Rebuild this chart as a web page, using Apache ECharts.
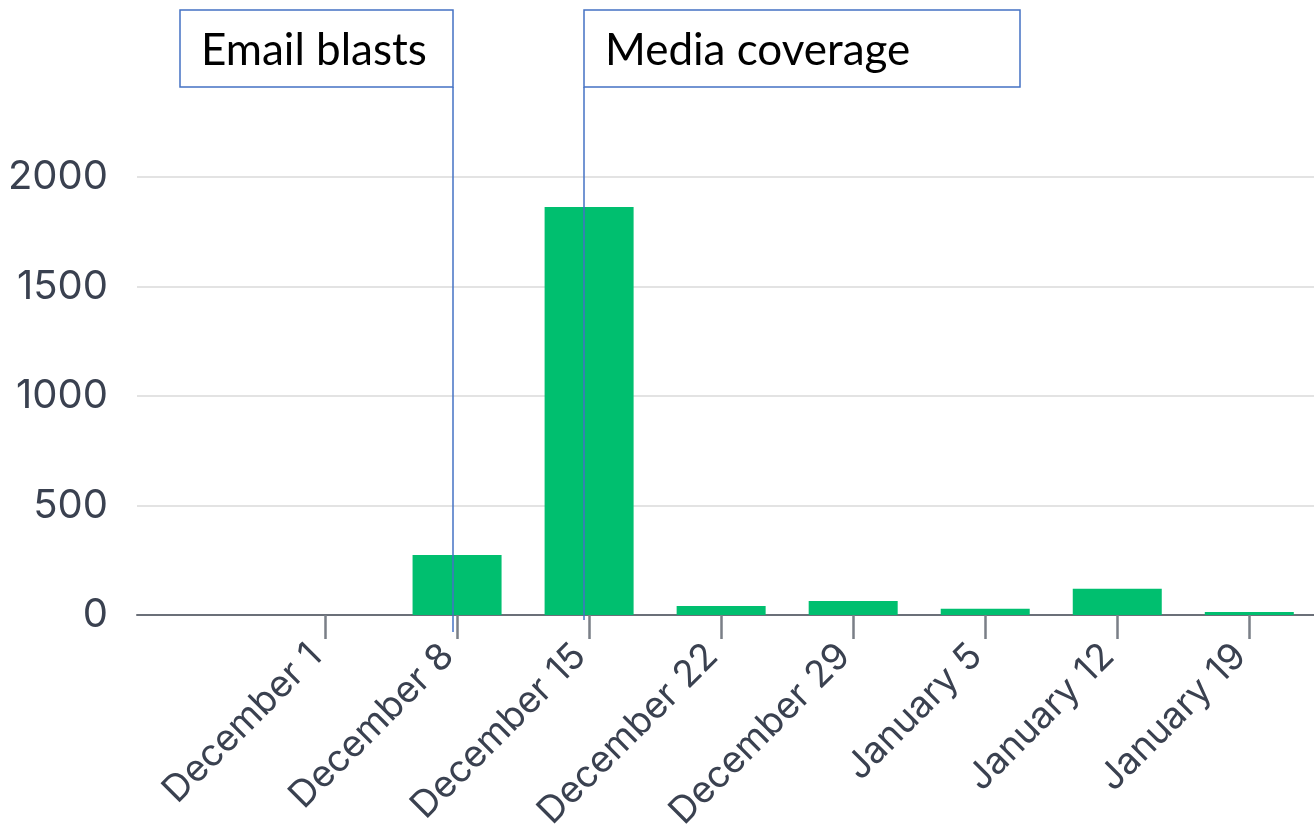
<!DOCTYPE html>
<html>
<head>
<meta charset="utf-8">
<script src="https://cdn.jsdelivr.net/npm/echarts@6/dist/echarts.min.js"></script>
<style>
html,body{margin:0;padding:0;background:#fff;}
#chart{width:1314px;height:824px;}
</style>
</head>
<body>
<div id="chart"></div>
<script>
const categories = ['December 1','December 8','December 15','December 22','December 29','January 5','January 12','January 19'];
const signups = [0, 274, 1863, 41, 64, 29, 120, 14];
const yTicks = [0, 500, 1000, 1500, 2000];
const annotations = ['Email blasts', 'Media coverage'];

const chart = echarts.init(document.getElementById('chart'), null, {renderer:'canvas'});
const idx = categories.map((c,i)=>i);
const labelFont = 'Inter';
const option = {
  animation:false,
  grid:{left:137, right:0, top:177, bottom:209, containLabel:false, outerBoundsMode:'none'},
  xAxis:{
    type:'value', min:-1.424, max:7.49,
    splitLine:{show:false},
    axisLine:{show:true, onZero:false, lineStyle:{color:'#6b7079', width:2}},
    axisTick:{show:true, customValues:idx, length:24, lineStyle:{color:'#7a7f87', width:2.5}},
    axisLabel:{customValues:idx, rotate:45, margin:26, padding:[0,13,0,0], fontSize:37, fontFamily:labelFont, color:'#3a4150',
      hideOverlap:false, formatter:v=>categories[Math.round(v)]}
  },
  yAxis:{
    type:'value', min:yTicks[0], max:yTicks[yTicks.length-1], interval:500,
    axisLine:{show:false}, axisTick:{show:false},
    splitLine:{lineStyle:{color:'#e3e3e3', width:2}},
    axisLabel:{fontSize:40, fontFamily:labelFont, color:'#3a4150', margin:29, formatter:v=>String(v)}
  },
  series:[{type:'bar', data:signups.map((v,i)=>[i,v]), barWidth:89, itemStyle:{color:'#00BF6F'}}],
  graphic:[
    {type:'line', z:100, shape:{x1:453,y1:87,x2:453,y2:632}, style:{stroke:'#4472C4', lineWidth:1.5}},
    {type:'line', z:100, shape:{x1:584,y1:87,x2:584,y2:620}, style:{stroke:'#4472C4', lineWidth:1.5}},
    {type:'rect', z:100, shape:{x:180,y:10,width:273,height:77}, style:{fill:'#fff', stroke:'#4472C4', lineWidth:1.5}},
    {type:'rect', z:100, shape:{x:584,y:10,width:436,height:77}, style:{fill:'#fff', stroke:'#4472C4', lineWidth:1.5}},
    {type:'text', z:101, x:201, y:51, style:{text:annotations[0], font:'44px Lato', fill:'#000', verticalAlign:'middle'}},
    {type:'text', z:101, x:605, y:51, style:{text:annotations[1], font:'44px Lato', fill:'#000', verticalAlign:'middle'}}
  ]
};
chart.setOption(option);
</script>
</body>
</html>
